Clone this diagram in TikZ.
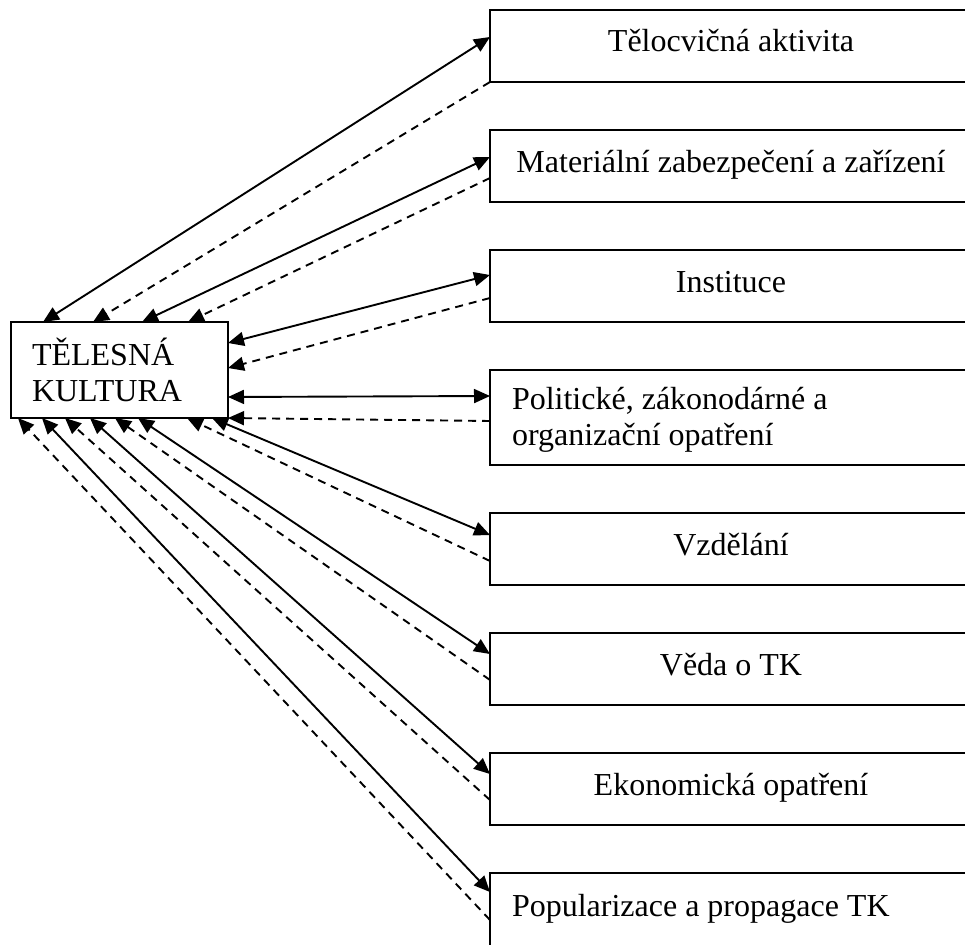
\documentclass[tikz,border=0pt]{standalone}
\usepackage{fontspec}
\setmainfont{Liberation Serif}
\usepackage{tikz}
\usetikzlibrary{arrows.meta}
\usetikzlibrary{positioning}

\begin{document}
\begin{tikzpicture}[x=1pt,y=-1pt,
    box/.style={draw, line width=2pt, outer sep=0pt, minimum width=482pt, font=\fontsize{32}{36}\selectfont},
    onebox/.style={box, minimum height=72pt, text height=22pt, text depth=10pt},
    twobox/.style={box, minimum height=95pt, text width=438pt, inner xsep=22pt, align=flush left},
    both/.style={line width=1.9pt, {Triangle[length=16pt,width=14pt]}-{Triangle[length=16pt,width=14pt]}},
    back/.style={line width=1.9pt, dash pattern=on 8pt off 6pt, -{Triangle[length=16pt,width=14pt]}}]
                \useasboundingbox (0,0) rectangle (965,944);
                \clip (0,0) rectangle (965,944);
                \node[box, minimum width=217pt, minimum height=96pt, text width=175pt, inner xsep=21pt, align=flush left] (tk) at (119.5,370) {TĚLESNÁ\\KULTURA};
                \node[onebox, anchor=north west] (b1) at (490,10) {Tělocvičná aktivita};
                \node[onebox, below=48pt of b1] (b2) {Materiální zabezpečení a zařízení};
                \node[onebox, below=48pt of b2] (b3) {Instituce};
                \node[twobox, below=48pt of b3, text depth=38pt] (b4) {Politické, zákonodárné a\\organizační opatření};
                \node[onebox, below=48pt of b4] (b5) {Vzdělání};
                \node[onebox, below=48pt of b5] (b6) {Věda o TK};
                \node[onebox, below=48pt of b6] (b7) {Ekonomická opatření};
                \node[twobox, below=48pt of b7, text depth=30pt] (b8) {Popularizace a propagace TK};
                % top edge
                \draw[both] ([xshift=32pt]tk.north west) -- ([yshift=-27pt]b1.north west);
                \draw[back] (b1.south west) -- ([xshift=82pt]tk.north west);
                \draw[both] ([xshift=131pt]tk.north west) -- ([yshift=-27pt]b2.north west);
                \draw[back] ([yshift=-48pt]b2.north west) -- ([xshift=177pt]tk.north west);
                % right edge
                \draw[both] ([yshift=-21pt]tk.north east) -- ([yshift=-25pt]b3.north west);
                \draw[back] ([yshift=-48pt]b3.north west) -- ([yshift=-46pt]tk.north east);
                \draw[both] ([yshift=-75pt]tk.north east) -- ([yshift=-26pt]b4.north west);
                \draw[back] ([yshift=-51pt]b4.north west) -- (tk.south east);
                % bottom edge
                \draw[both] ([xshift=201pt]tk.south west) -- ([yshift=-22pt]b5.north west);
                \draw[back] ([yshift=-48pt]b5.north west) -- ([xshift=176pt]tk.south west);
                \draw[both] ([xshift=127pt]tk.south west) -- ([yshift=-21pt]b6.north west);
                \draw[back] ([yshift=-47pt]b6.north west) -- ([xshift=104pt]tk.south west);
                \draw[both] ([xshift=79pt]tk.south west) -- ([yshift=-21pt]b7.north west);
                \draw[back] ([yshift=-47pt]b7.north west) -- ([xshift=54pt]tk.south west);
                \draw[both] ([xshift=31pt]tk.south west) -- ([yshift=-19pt]b8.north west);
                \draw[back] ([yshift=-47pt]b8.north west) -- ([xshift=7pt]tk.south west);
\end{tikzpicture}
\end{document}
